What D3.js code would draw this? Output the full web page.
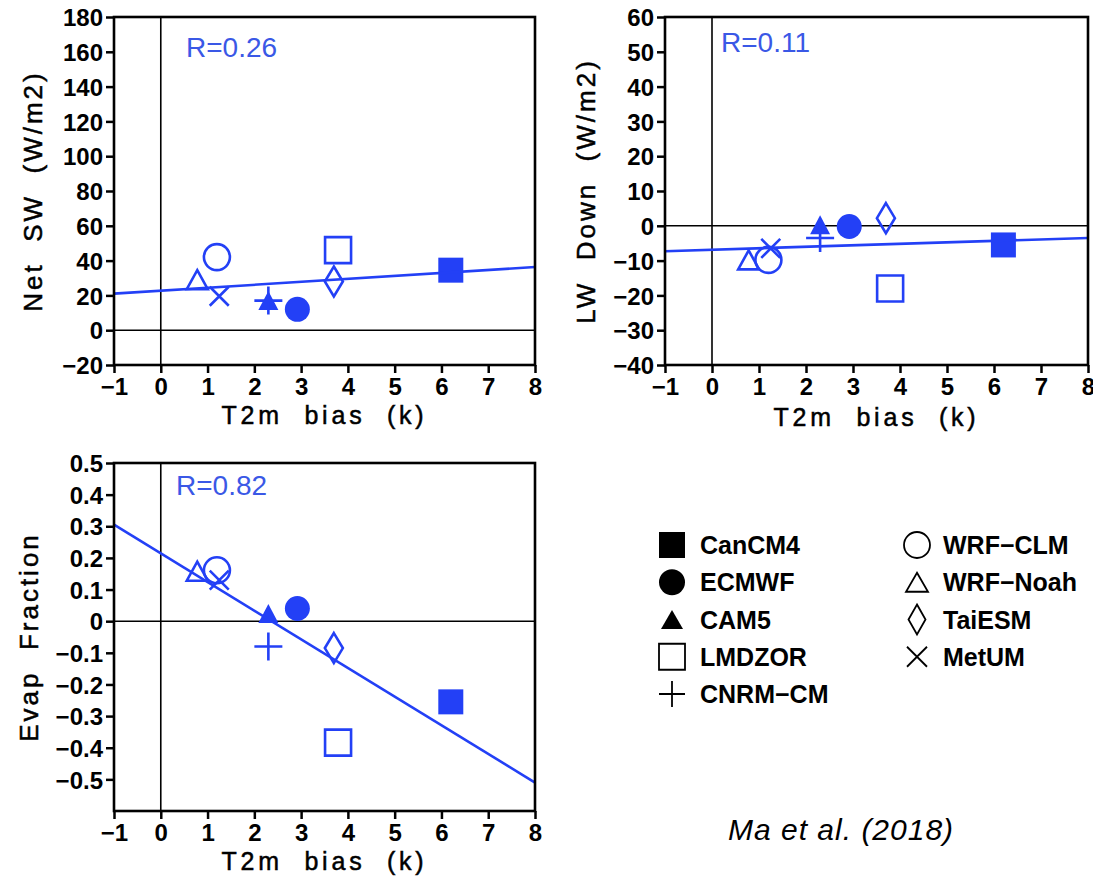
<!DOCTYPE html>
<html>
<head>
<meta charset="utf-8">
<script src="https://cdn.jsdelivr.net/npm/d3@7"></script>
<style>
  body { margin: 0; background: #fff; }
  svg { font-family: "Liberation Sans", Arial, sans-serif; }
</style>
</head>
<body>
<div id="chart-area"></div>
<script>
// model names and T2m bias (x) shared by all three panels
const models   = ["CanCM4", "ECMWF", "CAM5", "LMDZOR", "CNRM\u2212CM", "WRF\u2212CLM", "WRF\u2212Noah", "TaiESM", "MetUM"];
const t2mBias  = [6.2, 2.92, 2.3, 3.79, 2.3, 1.2, 0.78, 3.7, 1.25];

// y values per panel
const netSW    = [34.5, 12, 17, 46, 17, 42, 29, 28, 19.5];
const lwDown   = [-5.5, -0.2, 0.3, -18, -3.5, -9.8, -9.8, 2.2, -6.5];
const evapFrac = [-0.255, 0.04, 0.024, -0.384, -0.08, 0.161, 0.158, -0.085, 0.13];

// regression lines: y at x=-1 and at x=8
const fitX        = [-1, 8];
const netSWFit    = [21, 36.3];
const lwDownFit   = [-7.3, -3.5];
const evapFracFit = [0.305, -0.51];

const rLabels = ["R=0.26", "R=0.11", "R=0.82"];
const xTicks  = d3.range(-1, 9);

const blue = "#2340f6";

// marker look for each model (same order as models)
const markerStyles = [
  { shape: "square",   fill: true,  w: 25, h: 25 },
  { shape: "circle",   fill: true,  w: 25, h: 25 },
  { shape: "triangle", fill: true,  w: 20, h: 19 },
  { shape: "square",   fill: false, w: 26, h: 26 },
  { shape: "plus",     fill: false, w: 28, h: 28 },
  { shape: "circle",   fill: false, w: 26, h: 26 },
  { shape: "triangle", fill: false, w: 21, h: 19 },
  { shape: "diamond",  fill: false, w: 18, h: 30 },
  { shape: "times",    fill: false, w: 19, h: 19 }
];

function shapePath(type, w, h) {
  const p = d3.path();
  if (type === "square") p.rect(-w / 2, -h / 2, w, h);
  else if (type === "circle") { p.moveTo(w / 2, 0); p.arc(0, 0, w / 2, 0, 2 * Math.PI); }
  else if (type === "triangle") { p.moveTo(0, -h / 2); p.lineTo(w / 2, h / 2); p.lineTo(-w / 2, h / 2); p.closePath(); }
  else if (type === "diamond") { p.moveTo(0, -h / 2); p.lineTo(w / 2, 0); p.lineTo(0, h / 2); p.lineTo(-w / 2, 0); p.closePath(); }
  else if (type === "plus") { p.moveTo(-w / 2, 0); p.lineTo(w / 2, 0); p.moveTo(0, -h / 2); p.lineTo(0, h / 2); }
  else if (type === "times") { p.moveTo(-w / 2, -h / 2); p.lineTo(w / 2, h / 2); p.moveTo(w / 2, -h / 2); p.lineTo(-w / 2, h / 2); }
  return p.toString();
}

const panels = [
  { left: 114, right: 535, top: 17, bottom: 365, yDomain: [-20, 180], yTicks: d3.range(-20, 181, 20),
    values: netSW, fit: netSWFit, r: rLabels[0], rX: 186, rY: 57,
    yTitle: "Net  SW  (W/m2)", yTitleX: 33, xTitleY: 424 },
  { left: 665, right: 1088, top: 17, bottom: 365, yDomain: [-40, 60], yTicks: d3.range(-40, 61, 10),
    values: lwDown, fit: lwDownFit, r: rLabels[1], rX: 721, rY: 52,
    yTitle: "LW  Down  (W/m2)", yTitleX: 586, xTitleY: 426 },
  { left: 114, right: 535, top: 463, bottom: 811, yDomain: [-0.6, 0.5], yTicks: d3.ticks(-0.5, 0.5, 10),
    values: evapFrac, fit: evapFracFit, r: rLabels[2], rX: 176, rY: 495,
    yTitle: "Evap  Fraction", yTitleX: 29, xTitleY: 870 }
];

const svg = d3.select("#chart-area").append("svg")
    .attr("width", 1093)
    .attr("height", 882);

const fmt = d3.format("");

panels.forEach(p => {
  const x = d3.scaleLinear().domain([-1, 8]).range([p.left, p.right]);
  const y = d3.scaleLinear().domain(p.yDomain).range([p.bottom, p.top]);
  const g = svg.append("g");

  // axes
  const xAxis = g.append("g")
      .attr("transform", `translate(0,${p.bottom})`)
      .call(d3.axisBottom(x).tickValues(xTicks).tickSize(8).tickPadding(3).tickFormat(fmt));
  const yAxis = g.append("g")
      .attr("transform", `translate(${p.left},0)`)
      .call(d3.axisLeft(y).tickValues(p.yTicks).tickSize(8).tickPadding(3).tickFormat(fmt));
  [xAxis, yAxis].forEach(a => {
    a.select(".domain").remove();
    a.selectAll(".tick line").attr("stroke", "#000").attr("stroke-width", 2.5);
    a.selectAll(".tick text")
        .attr("fill", "#000")
        .style("font-size", "24px")
        .style("font-weight", "bold");
  });
  xAxis.selectAll(".tick text").attr("dy", "0.78em");
  yAxis.selectAll(".tick text").attr("dy", "0.36em");

  // zero lines
  g.append("line")
      .attr("x1", x(0)).attr("x2", x(0))
      .attr("y1", p.top).attr("y2", p.bottom)
      .attr("stroke", "#000").attr("stroke-width", 1.6);
  g.append("line")
      .attr("x1", p.left).attr("x2", p.right)
      .attr("y1", y(0)).attr("y2", y(0))
      .attr("stroke", "#000").attr("stroke-width", 1.6);

  // markers
  g.selectAll("path.mark")
    .data(models.map((m, i) => ({ m: m, x: t2mBias[i], y: p.values[i], s: markerStyles[i] })))
    .enter()
      .append("path")
        .attr("class", "mark")
        .attr("transform", d => `translate(${x(d.x)},${y(d.y)})`)
        .attr("d", d => shapePath(d.s.shape, d.s.w, d.s.h))
        .attr("fill", d => d.s.fill ? blue : "none")
        .attr("stroke", blue)
        .attr("stroke-width", d => d.s.fill ? 0 : 2.6);

  // regression line
  g.append("path")
      .datum(fitX.map((v, i) => [v, p.fit[i]]))
      .attr("d", d3.line().x(d => x(d[0])).y(d => y(d[1])))
      .attr("fill", "none")
      .attr("stroke", blue)
      .attr("stroke-width", 2.6);

  // frame
  g.append("rect")
      .attr("x", p.left).attr("y", p.top)
      .attr("width", p.right - p.left).attr("height", p.bottom - p.top)
      .attr("fill", "none").attr("stroke", "#000").attr("stroke-width", 2.6);

  // R label
  g.append("text")
      .attr("x", p.rX).attr("y", p.rY)
      .attr("fill", "#3a58e6")
      .style("font-size", "28px")
      .text(p.r);

  // axis titles
  g.append("text")
      .attr("x", (p.left + p.right) / 2).attr("y", p.xTitleY)
      .attr("text-anchor", "middle")
      .attr("xml:space", "preserve")
      .style("font-size", "25px")
      .style("letter-spacing", "3.8px")
      .attr("stroke", "#000").attr("stroke-width", 0.5)
      .text("T2m  bias  (k)");
  g.append("text")
      .attr("transform", `translate(${p.yTitleX},${(p.top + p.bottom) / 2}) rotate(-90)`)
      .attr("text-anchor", "middle")
      .attr("dominant-baseline", "central")
      .attr("xml:space", "preserve")
      .style("font-size", "26px")
      .style("letter-spacing", "3px")
      .attr("stroke", "#000").attr("stroke-width", 0.5)
      .text(p.yTitle);
});

// legend
const legendRows = d3.scaleLinear().domain([0, 4]).range([545, 694]);
const legendItems = models.map((m, i) => ({
  m: m, s: markerStyles[i],
  col: i < 5 ? 0 : 1,
  row: i < 5 ? i : i - 5
}));
const legendCols = [{ mx: 672, tx: 700 }, { mx: 917, tx: 943 }];

const leg = svg.append("g");
const item = leg.selectAll("g.item")
    .data(legendItems).enter()
      .append("g")
        .attr("class", "item")
        .attr("transform", d => `translate(0,${legendRows(d.row)})`);
item.append("path")
    .attr("transform", d => `translate(${legendCols[d.col].mx},0)`)
    .attr("d", d => {
      const w = d.s.shape === "triangle" ? 22 : d.s.shape === "diamond" ? 17 : d.s.shape === "times" ? 20 : 26;
      const h = d.s.shape === "triangle" ? 19 : d.s.shape === "diamond" ? 30 : d.s.shape === "times" ? 20 : 26;
      return shapePath(d.s.shape, w, h);
    })
    .attr("fill", d => d.s.fill ? "#000" : "none")
    .attr("stroke", "#000")
    .attr("stroke-width", d => d.s.fill ? 0 : 1.8);
item.append("text")
    .attr("x", d => legendCols[d.col].tx)
    .attr("y", 9)
    .style("font-size", "25px")
    .style("font-weight", "bold")
    .text(d => d.m);

// citation
svg.append("text")
    .attr("x", 728).attr("y", 840)
    .style("font-size", "30px")
    .style("font-style", "italic")
    .style("letter-spacing", "1px")
    .text("Ma et al. (2018)");
</script>
</body>
</html>
